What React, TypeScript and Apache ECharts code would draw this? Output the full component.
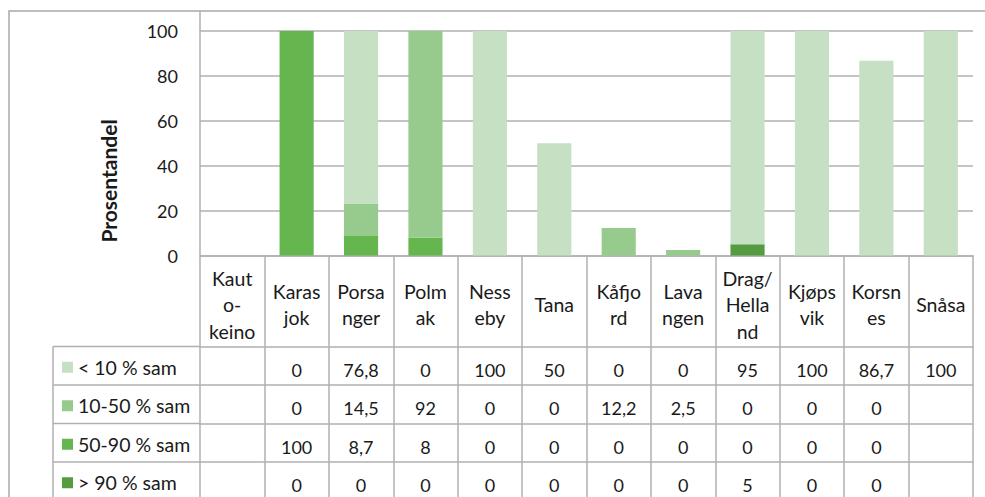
import React, { useEffect, useRef } from "react";
import * as echarts from "echarts";

// ---- data ----
const categories = [
  "Kaut\no-\nkeino",
  "Karas\njok",
  "Porsa\nnger",
  "Polm\nak",
  "Ness\neby",
  "Tana",
  "Kåfjo\nrd",
  "Lava\nngen",
  "Drag/\nHella\nnd",
  "Kjøps\nvik",
  "Korsn\nes",
  "Snåsa",
];
const seriesNames = ["< 10 % sam", "10-50 % sam", "50-90 % sam", "> 90 % sam"];
const below10: (number | null)[] = [null, 0, 76.8, 0, 100, 50, 0, 0, 95, 100, 86.7, 100];
const from10to50: (number | null)[] = [null, 0, 14.5, 92, 0, 0, 12.2, 2.5, 0, 0, 0, null];
const from50to90: (number | null)[] = [null, 100, 8.7, 8, 0, 0, 0, 0, 0, 0, 0, null];
const above90: (number | null)[] = [null, 0, 0, 0, 0, 0, 0, 0, 5, 0, 0, null];
const yTicks = { min: 0, max: 100, interval: 20 };

// ---- style / layout ----
const colors = ["#c5e0c3", "#97cb8d", "#66b650", "#559c40"];
const LINE = "#b0b0b0";
const TXT = "#1a1a1a";
const FONT = "Lato";
const GRID_LEFT = 200;
const GRID_TOP = 31;
const GRID_RIGHT_X = 973;
const AXIS_Y = 255.5;
const HEADER_H = 91;
const ROW_H = 38.5;
const LEG_LEFT = 53;

const rows = [below10, from10to50, from50to90, above90];
const fmt = (v: number | null) => (v == null ? "" : String(v).replace(".", ","));

export default function App() {
  const ref = useRef<HTMLDivElement>(null);
  useEffect(() => {
    if (!ref.current) return;
    const chart = echarts.init(ref.current, undefined, { renderer: "svg" });
    const lineStyle = { color: LINE, width: 1.5 };

    const rowAxes = rows.map((row, r) => ({
      type: "category",
      data: categories,
      gridIndex: 0,
      position: "bottom",
      offset: HEADER_H + r * ROW_H,
      axisLine: { show: true, lineStyle },
      axisTick: { show: true, length: ROW_H, interval: 0, lineStyle },
      axisLabel: {
        interval: 0,
        margin: ROW_H / 2 + 4,
        verticalAlign: "middle",
        fontSize: 18,
        fontFamily: FONT,
        color: TXT,
        formatter: (_v: string, i: number) => fmt(row[i]),
      },
    }));

    const graphic: any[] = [
      {
        type: "rect",
        shape: { x: 9, y: 11, width: 1200, height: 800 },
        style: { fill: "none", stroke: "#a8a8a8", lineWidth: 1.5 },
        silent: true,
      },
      {
        type: "line",
        shape: { x1: GRID_LEFT, y1: 11, x2: GRID_LEFT, y2: GRID_TOP },
        style: { stroke: LINE, lineWidth: 1.5 },
        silent: true,
      },
      {
        type: "line",
        shape: { x1: LEG_LEFT, y1: AXIS_Y + HEADER_H, x2: LEG_LEFT, y2: 600 },
        style: { stroke: LINE, lineWidth: 1.5 },
        silent: true,
      },
      ...rows.map((_, r) => ({
        type: "line",
        shape: {
          x1: LEG_LEFT,
          y1: AXIS_Y + HEADER_H + r * ROW_H,
          x2: GRID_LEFT,
          y2: AXIS_Y + HEADER_H + r * ROW_H,
        },
        style: { stroke: LINE, lineWidth: 1.5 },
        silent: true,
      })),
      {
        type: "text",
        x: 108,
        y: 181,
        rotation: Math.PI / 2,
        style: {
          text: "Prosentandel",
          fontSize: 21,
          fontWeight: "bold",
          fontFamily: FONT,
          fill: TXT,
          align: "center",
          verticalAlign: "middle",
          textAlign: "center",
          textVerticalAlign: "middle",
        },
        silent: true,
      },
    ];

    const stackData = [above90, from50to90, from10to50, below10];
    const stackNames = [seriesNames[3], seriesNames[2], seriesNames[1], seriesNames[0]];
    const stackColors = [colors[3], colors[2], colors[1], colors[0]];

    chart.setOption({
      animation: false,
      textStyle: { fontFamily: FONT },
      grid: {
        left: GRID_LEFT,
        top: GRID_TOP,
        width: GRID_RIGHT_X - GRID_LEFT,
        height: AXIS_Y - GRID_TOP,
        containLabel: false,
      },
      legend: {
        orient: "vertical",
        left: 62,
        top: AXIS_Y + HEADER_H + ROW_H / 2 + 1.5 - 11,
        padding: 0,
        itemWidth: 11,
        itemHeight: 11,
        itemGap: ROW_H - 22,
        icon: "rect",
        selectedMode: false,
        data: seriesNames,
        textStyle: { fontSize: 19.5, lineHeight: 22, color: TXT, fontFamily: FONT },
      },
      xAxis: [
        {
          type: "category",
          data: categories,
          gridIndex: 0,
          position: "bottom",
          axisLine: { show: true, lineStyle },
          axisTick: { show: true, length: HEADER_H, interval: 0, lineStyle },
          axisLabel: {
            interval: 0,
            margin: HEADER_H / 2 + 3.5,
            verticalAlign: "middle",
            lineHeight: 26.5,
            fontSize: 19.5,
            fontFamily: FONT,
            color: TXT,
          },
        },
        ...rowAxes,
      ],
      yAxis: {
        type: "value",
        min: yTicks.min,
        max: yTicks.max,
        interval: yTicks.interval,
        axisLine: { show: true, lineStyle },
        axisTick: { show: false },
        splitLine: { lineStyle },
        axisLabel: {
          margin: 22,
          fontSize: 18,
          fontFamily: FONT,
          color: TXT,
          padding: [8, 0, 0, 0],
        },
      },
      graphic,
      series: stackData.map((d, i) => ({
        name: stackNames[i],
        type: "bar",
        stack: "total",
        xAxisIndex: 0,
        barWidth: "53%",
        data: d,
        itemStyle: { color: stackColors[i] },
      })),
    });
    return () => chart.dispose();
  }, []);

  return (
    <div
      ref={ref}
      style={{ position: "absolute", left: 0, top: 0, width: 985, height: 497 }}
    />
  );
}
